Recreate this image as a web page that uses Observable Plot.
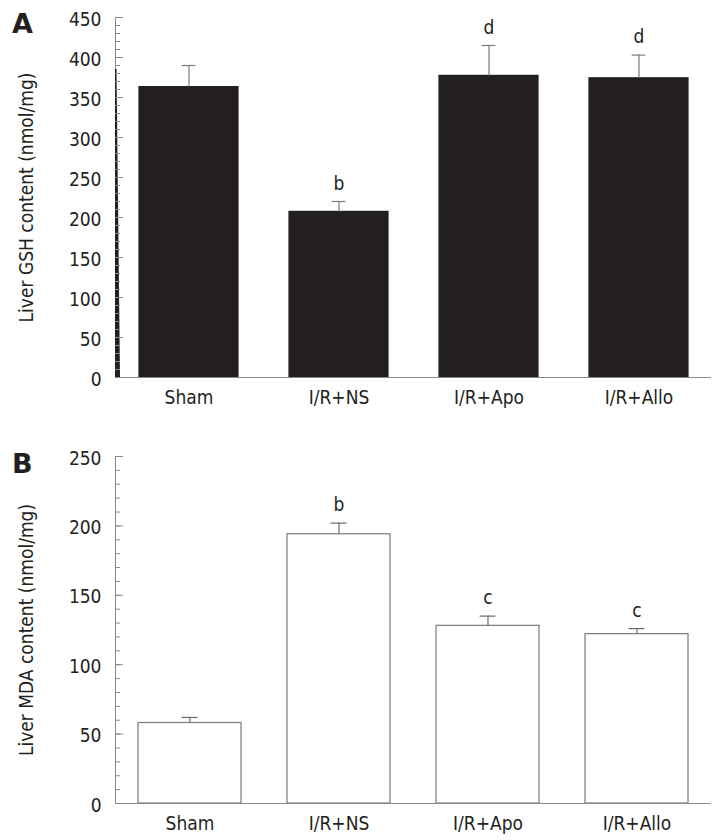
<!DOCTYPE html>
<html>
<head>
<meta charset="utf-8">
<script src="https://cdn.jsdelivr.net/npm/d3@7"></script>
<script src="https://cdn.jsdelivr.net/npm/@observablehq/plot@0.6"></script>
<style>
  html, body { margin: 0; padding: 0; background: #fff; }
  #wrap { position: relative; width: 715px; height: 840px; font-family: "DejaVu Sans Condensed", "DejaVu Sans", sans-serif; font-stretch: condensed; }
  .panel-letter { position: absolute; left: 12px; font: bold 27px/27px "DejaVu Sans", sans-serif; font-stretch: normal; color: #231f20; }
  #wrap svg { display: block; overflow: visible; }
</style>
</head>
<body>
<div id="wrap">
  <div id="top"></div>
  <div id="bottom"></div>
  <div class="panel-letter" style="top:10px">A</div>
  <div class="panel-letter" style="top:450px">B</div>
</div>
<script>
// ---- data ----
const groups = ["Sham", "I/R+NS", "I/R+Apo", "I/R+Allo"];

const gshMean = [363, 207, 377, 374];
const gshErr = [27, 13, 38, 29];
const gshSig = ["", "b", "d", "d"];
const gshLabel = "Liver GSH content (nmol/mg)";
const gshTicks = [0, 50, 100, 150, 200, 250, 300, 350, 400, 450];

const mdaMean = [58, 194, 128, 122];
const mdaErr = [4, 8, 7, 4];
const mdaSig = ["", "b", "c", "c"];
const mdaLabel = "Liver MDA content (nmol/mg)";
const mdaTicks = [0, 50, 100, 150, 200, 250];

// ---- helpers ----
const W = 715, ML = 115, MR = 4;
const frameW = W - ML - MR;
const ink = "#231f20";
const gray = "#8a8a8a";
const FS = 19;

function rows(mean, err, sig) {
  return groups.map((g, i) => ({ group: g, mean: mean[i], top: mean[i] + err[i], sig: sig[i] }));
}

function axisLine(taperTop) {
  return (index, scales, values, dims) => {
    const g = d3.create("svg:g");
    const x0 = dims.marginLeft;
    const yT = dims.marginTop, yB = dims.height - dims.marginBottom;
    g.append("line").attr("x1", x0 + 0.5).attr("x2", x0 + 0.5)
      .attr("y1", yT).attr("y2", yB).attr("stroke", gray);
    if (taperTop != null) {
      const ys = scales.y(taperTop), y0 = scales.y(0);
      g.append("path")
        .attr("d", `M${x0},${ys} L${x0 + 1.5},${ys} L${x0 + 5},${y0} L${x0},${y0} Z`)
        .attr("fill", ink);
    }
    return g.node();
  };
}

function panel({ data, ticks, domainMax, label, height, marginTop, marginBottom,
                 fill, stroke, padInner, padOuter, capW, errStroke, taperTop }) {
  const minor = d3.range(0, domainMax + 1, 10);
  const bw = frameW / (groups.length - padInner + 2 * padOuter) * (1 - padInner);
  return Plot.plot({
    width: W,
    height,
    marginLeft: ML,
    marginRight: MR,
    marginTop,
    marginBottom,
    style: { fontFamily: "'DejaVu Sans Condensed', 'DejaVu Sans', sans-serif", fontStretch: "condensed",
             fontSize: FS + "px", color: ink, background: "#fff" },
    x: { domain: groups, paddingInner: padInner, paddingOuter: padOuter, label: null },
    y: { domain: [0, domainMax], label: null },
    marks: [
      Plot.barY(data, { x: "group", y: "mean", fill, stroke, strokeWidth: 1.2 }),
      Plot.ruleX(data, { x: "group", y1: "mean", y2: "top", stroke: errStroke, strokeWidth: 1.2 }),
      Plot.tickY(data, { x: "group", y: "top", stroke: errStroke, strokeWidth: 1.2,
                         insetLeft: (bw - capW) / 2, insetRight: (bw - capW) / 2 }),
      Plot.text(data, { x: "group", y: "top", text: "sig", dy: -18, fontSize: FS, fill: ink }),
      Plot.ruleY([0], { stroke: gray, strokeWidth: 1.2 }),
      axisLine(taperTop),
      Plot.tickY(minor, { y: d => d, stroke: gray, insetRight: frameW - 5 }),
      Plot.tickY(ticks, { y: d => d, stroke: gray, insetRight: frameW - 8 }),
      Plot.axisY({ ticks, tickSize: 0, tickPadding: 14, dy: 2, label: null, fill: ink, fontSize: FS }),
      Plot.axisX({ tickSize: 0, tickPadding: 13, label: null, fill: ink, fontSize: FS }),
      Plot.text([label], { frameAnchor: "left", text: d => d, rotate: -90, dx: -89,
                           textAnchor: "middle", lineAnchor: "middle", fontSize: FS, fill: ink })
    ]
  });
}

document.getElementById("top").append(panel({
  data: rows(gshMean, gshErr, gshSig),
  ticks: gshTicks, domainMax: 450, label: gshLabel,
  height: 410, marginTop: 17, marginBottom: 33,
  fill: ink, stroke: ink, padInner: 0.34, padOuter: 0.15, capW: 14,
  errStroke: "#7a7a7a", taperTop: 385
}));

document.getElementById("bottom").append(panel({
  data: rows(mdaMean, mdaErr, mdaSig),
  ticks: mdaTicks, domainMax: 250, label: mdaLabel,
  height: 430, marginTop: 46, marginBottom: 37,
  fill: "#fff", stroke: "#7a7a7a", padInner: 0.31, padOuter: 0.15, capW: 16,
  errStroke: "#6a6a6a", taperTop: null
}));
</script>
</body>
</html>
